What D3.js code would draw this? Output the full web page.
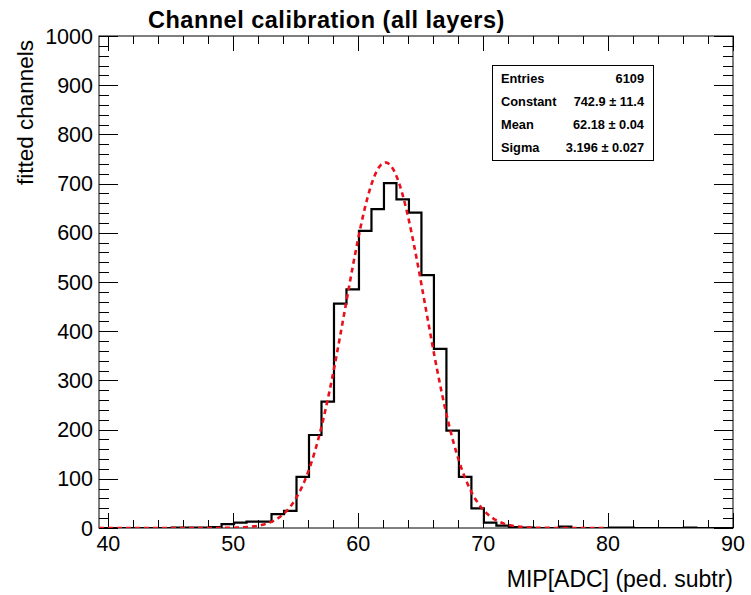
<!DOCTYPE html>
<html><head><meta charset="utf-8">
<script src="https://cdn.jsdelivr.net/npm/d3@7"></script>
<style>body{margin:0;background:#fff}svg{display:block}text{font-family:"Liberation Sans",Arial,sans-serif}</style>
</head><body>
<svg id="c" width="751" height="595"></svg>
<script>
// ---- data ----
const binStart = 39.06;           // lower edge of first bin (bin width 1)
const binCounts = [0,0,0,0,0,0,1,1,1,2,8,11,13,13,28,35,104,189,257,456,485,604,648,701,668,641,514,364,198,104,40,11,5,2,1,0,0,3,0,0,0,1,1,0,0,0,0,1,0,0,0];
const xTicks = [40,50,60,70,80,90];
const yTicks = [0,100,200,300,400,500,600,700,800,900,1000];
const fitConstant = 742.9, fitMean = 62.18, fitSigma = 3.196, fitRange = [39.25, 80];
const statLabels = ["Entries","Constant","Mean","Sigma"];
const statValues = ["6109","742.9 \u00b1 11.4","62.18 \u00b1 0.04","3.196 \u00b1 0.027"];
const title = "Channel calibration (all layers)";
const xTitle = "MIP[ADC] (ped. subtr)";
const yTitle = "fitted channels";

const svg = d3.select("#c");
const L=99, R=733, T=36, B=528;
const x = d3.scaleLinear().domain([39.25, 90]).range([L, R]);
const y = d3.scaleLinear().domain([0, 1000]).range([B, T]);

svg.append("defs").append("clipPath").attr("id","clip")
  .append("rect").attr("x",L).attr("y",T).attr("width",R-L).attr("height",B-T);

// frame
svg.append("rect").attr("x",L).attr("y",T).attr("width",R-L).attr("height",B-T)
  .attr("fill","none").attr("stroke","#000").attr("stroke-width",1);

// ticks
const g = svg.append("g").attr("stroke","#000").attr("stroke-width",1);
const xMinor = d3.range(40, 91, 2);
xMinor.forEach(v=>{
  const major = v%10===0, len = major?15:8, px=Math.round(x(v))+0.5;
  g.append("line").attr("x1",px).attr("x2",px).attr("y1",B).attr("y2",B-len);
  g.append("line").attr("x1",px).attr("x2",px).attr("y1",T).attr("y2",T+len);
});
const yMinor = d3.range(0, 1001, 20);
yMinor.forEach(v=>{
  const major = v%100===0, len = major?19:10, py=Math.round(y(v))+0.5;
  g.append("line").attr("x1",L).attr("x2",L+len).attr("y1",py).attr("y2",py);
  g.append("line").attr("x1",R).attr("x2",R-len).attr("y1",py).attr("y2",py);
});

// tick labels
svg.append("g").selectAll("text").data(xTicks).join("text")
  .attr("x",d=>x(d)).attr("y",551).attr("text-anchor","middle")
  .attr("font-size",21.5).text(d=>d);
svg.append("g").selectAll("text").data(yTicks).join("text")
  .attr("x",93).attr("y",d=>y(d)+7.5).attr("text-anchor","end")
  .attr("font-size",21.5).text(d=>d);

// titles
svg.append("text").attr("x",148).attr("y",28).attr("font-size",23.5).attr("font-weight","bold")
  .attr("letter-spacing",0.5).text(title);
svg.append("text").attr("x",R).attr("y",587).attr("text-anchor","end").attr("font-size",23).text(xTitle);
svg.append("text").attr("transform","translate(33,40) rotate(-90)").attr("text-anchor","end").attr("font-size",22.5).text(yTitle);

// histogram
const pts = [];
binCounts.forEach((c,i)=>{
  const x0 = binStart+i, x1 = binStart+i+1;
  pts.push([x(x0), y(c)], [x(x1), y(c)]);
});
svg.append("path").attr("clip-path","url(#clip)")
  .attr("d", d3.line()(pts)).attr("fill","none").attr("stroke","#000").attr("stroke-width",2.2);

// fit
const fx = d3.range(fitRange[0], fitRange[1]+0.001, 0.1);
const gaus = v => fitConstant*Math.exp(-0.5*Math.pow((v-fitMean)/fitSigma,2));
svg.append("path").attr("clip-path","url(#clip)")
  .attr("d", d3.line().x(v=>x(v)).y(v=>y(gaus(v)))(fx))
  .attr("fill","none").attr("stroke","#e8101a").attr("stroke-width",2.6).attr("stroke-dasharray","5,4");

// stats box
const sb = svg.append("g");
sb.append("rect").attr("x",492.5).attr("y",65.5).attr("width",161).attr("height",95)
  .attr("fill","#fff").attr("stroke","#000").attr("stroke-width",1);
statLabels.forEach((s,i)=>{
  sb.append("text").attr("x",501).attr("y",83+i*23).attr("font-size",12.8).attr("font-weight","bold").text(s);
  sb.append("text").attr("x",644).attr("y",83+i*23).attr("text-anchor","end").attr("font-size",12.8).attr("font-weight","bold").text(statValues[i]);
});
</script>
</body></html>
